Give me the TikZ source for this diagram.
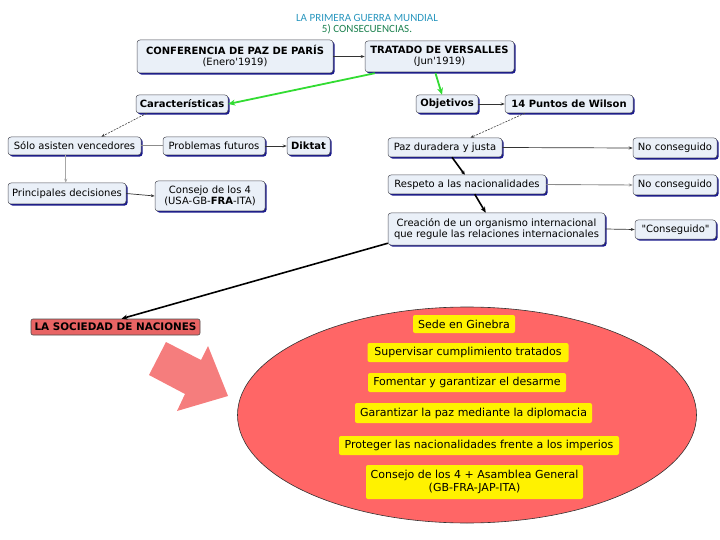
\documentclass[tikz,border=0pt]{standalone}
\usepackage{fontspec}
\setmainfont{DejaVu Sans}[Ligatures=TeXOff]
\newfontfamily\titlefont{Carlito}
\usetikzlibrary{shapes.geometric,shadows,calc,arrows.meta}
\definecolor{boxfill}{RGB}{234,240,248}
\definecolor{boxline}{RGB}{80,80,90}
\definecolor{navysh}{RGB}{25,25,140}
\definecolor{greenarr}{RGB}{50,220,50}
\definecolor{ellfill}{RGB}{255,102,102}
\definecolor{pinkarr}{RGB}{245,125,125}
\definecolor{socfill}{RGB}{232,100,100}
\definecolor{ttlblue}{RGB}{40,150,190}
\definecolor{ttlgreen}{RGB}{30,130,80}
\begin{document}
\begin{tikzpicture}[x=1pt,y=-1pt,
  mbox/.style={draw=boxline, fill=boxfill, rounded corners=3pt, line width=0.5pt,
    drop shadow={shadow xshift=1.6pt, shadow yshift=-1.6pt, fill=navysh, opacity=1},
    font=\fontsize{10}{11}\selectfont, inner sep=1pt, align=center},
  ybox/.style={fill=yellow, rounded corners=2pt, inner sep=1pt, align=center,
    font=\fontsize{11}{13}\selectfont},
  thin arr/.style={-{Stealth[length=4pt,width=3pt]}, line width=0.7pt, draw=black!80},
  gray arr/.style={-{Stealth[length=4pt,width=3pt]}, line width=0.9pt, draw=black!45},
  thick arr/.style={-{Stealth[length=6pt,width=5pt]}, line width=1.6pt, draw=black},
  green arr/.style={-{Stealth[length=7pt,width=6pt]}, line width=1.8pt, draw=greenarr},
  dash arr/.style={-{Stealth[length=4pt,width=3pt]}, line width=0.6pt, draw=black!75, dashed, dash pattern=on 2pt off 1.2pt}
]
\useasboundingbox (0,0) rectangle (720,540);

% title
\node[font=\titlefont\fontsize{11}{11}\selectfont, align=center, inner sep=0pt] (title) at (367,24.5)
  {\textcolor{ttlblue}{LA PRIMERA GUERRA MUNDIAL}\\\textcolor{ttlgreen}{5) CONSECUENCIAS.}};

% big ellipse
\node[ellipse, draw=black!80, line width=0.6pt, fill=ellfill, minimum width=459pt, minimum height=216pt, inner sep=0pt] (ell) at (467,415) {};

% pink arrow
\fill[pinkarr] (166,342) -- (201,360) -- (208,346) -- (228,396) -- (177,411) -- (185,394) -- (149,375) -- cycle;

% concept boxes
\node[mbox, minimum width=196pt, minimum height=33pt] (conf) at (235,56.5) {\textbf{CONFERENCIA DE PAZ DE PARÍS}\\(Enero'1919)};
\node[mbox, minimum width=149pt, minimum height=31pt] (trat) at (439.5,56.5) {\textbf{TRATADO DE VERSALLES}\\(Jun'1919)};
\node[mbox, minimum width=92pt, minimum height=18pt] (car) at (182,104) {\textbf{Características}};
\node[mbox, minimum width=133pt, minimum height=18pt] (solo) at (74.5,146) {Sólo asisten vencedores};
\node[mbox, minimum width=102pt, minimum height=18pt] (prob) at (214,146) {Problemas futuros};
\node[mbox, minimum width=43pt, minimum height=18pt] (dik) at (308.5,146) {\textbf{Diktat}};
\node[mbox, minimum width=118pt, minimum height=21pt] (princ) at (67,193.5) {Principales decisiones};
\node[mbox, minimum width=110pt, minimum height=30pt] (cons4) at (210,196) {Consejo de los 4\\(USA-GB-\textbf{FRA}-ITA)};
\node[mbox, minimum width=62pt, minimum height=18pt] (obj) at (447,104) {\textbf{Objetivos}};
\node[mbox, minimum width=128pt, minimum height=18pt] (wil) at (569,104) {\textbf{14 Puntos de Wilson}};
\node[mbox, minimum width=114pt, minimum height=19pt] (paz) at (445,147.5) {Paz duradera y justa};
\node[mbox, minimum width=84pt, minimum height=20pt] (nc1) at (675,148) {No conseguido};
\node[mbox, minimum width=158pt, minimum height=19pt] (resp) at (467,184.5) {Respeto a las nacionalidades};
\node[mbox, minimum width=84pt, minimum height=20pt] (nc2) at (675,185) {No conseguido};
\node[mbox, minimum width=217pt, minimum height=32pt] (crea) at (496.5,229) {Creación de un organismo internacional\\que regule las relaciones internacionales};
\node[mbox, minimum width=81pt, minimum height=19pt] (csg) at (675.5,229.5) {"Conseguido"};
\node[draw=black!70, fill=socfill, rounded corners=2pt, line width=0.6pt, inner sep=1pt,
  minimum width=169pt, minimum height=16pt, font=\fontsize{10.4}{11}\selectfont\bfseries] (soc) at (115.5,327) {LA SOCIEDAD DE NACIONES};

% yellow boxes
\node[ybox, minimum width=102pt, minimum height=18pt] (y1) at (464,324) {Sede en Ginebra};
\node[ybox, minimum width=201pt, minimum height=19pt] (y2) at (468,352.5) {Supervisar cumplimiento tratados};
\node[ybox, minimum width=198pt, minimum height=19pt] (y3) at (467,382.5) {Fomentar y garantizar el desarme};
\node[ybox, minimum width=237pt, minimum height=20pt] (y4) at (473.5,413) {Garantizar la paz mediante la diplomacia};
\node[ybox, minimum width=280pt, minimum height=19pt] (y5) at (479,445.5) {Proteger las nacionalidades frente a los imperios};
\node[ybox, minimum width=217pt, minimum height=34pt] (y6) at (474.5,482) {Consejo de los 4 + Asamblea General\\(GB-FRA-JAP-ITA)};

% connectors
\draw[thin arr] (conf.east) -- (trat.west);
\draw[green arr] ($(trat.south west)+(10,1)$) -- (car.east);
\draw[green arr] ($(trat.south)+(-4,1)$) -- ($(obj.north)+(-5,0)$);
\draw[dash arr] ($(car.south west)+(11,0)$) -- ($(solo.north east)+(-40,0)$);
\draw[line width=1pt, draw=black!45] (solo.east) -- (prob.west);
\draw[thin arr] (prob.east) -- (dik.west);
\draw[gray arr, line width=0.6pt, draw=black!35] ($(solo.south west)+(58,0)$) -- ($(princ.north west)+(58,0)$);
\draw[thin arr] (princ.east) -- (cons4.west);
\draw[thin arr] (obj.east) -- (wil.west);
\draw[dash arr] ($(wil.south west)+(20,0)$) -- ($(paz.north east)+(-32,0)$);
\draw[thin arr] (paz.east) -- (nc1.west);
\draw[thick arr, -{Stealth[length=4pt,width=4pt]}] ($(paz.south)+(7,0)$) -- ($(resp.north west)+(77,0)$);
\draw[gray arr] (resp.east) -- (nc2.west);
\draw[thick arr] ($(resp.south west)+(87,0)$) -- ($(crea.north west)+(98,0)$);
\draw[thin arr] (crea.east) -- (csg.west);
\draw[thick arr] ($(crea.south west)+(0,-2)$) -- ($(soc.north)+(6,0)$);
\end{tikzpicture}
\end{document}
